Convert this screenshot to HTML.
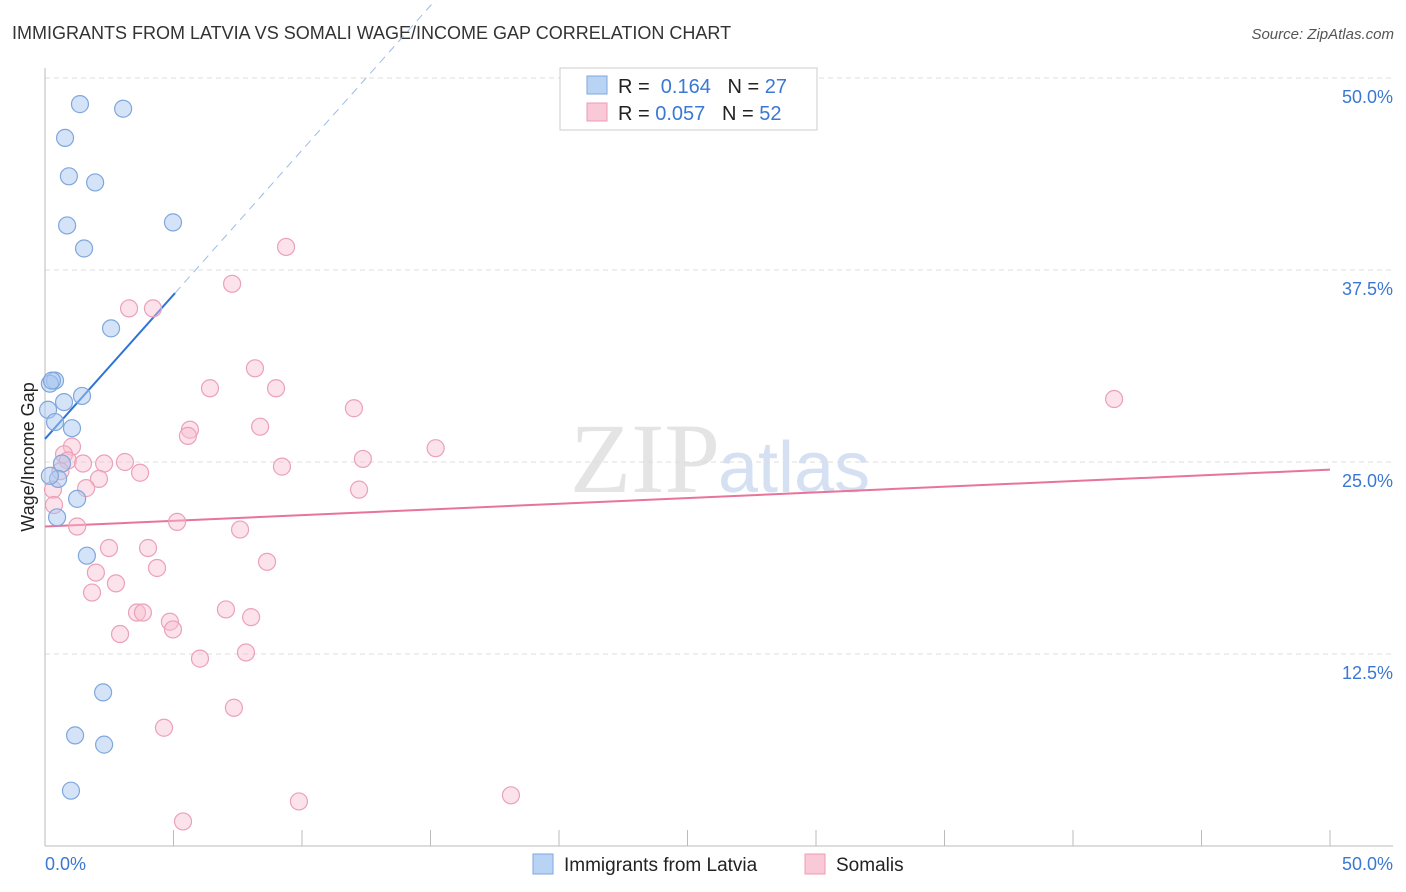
<!DOCTYPE html>
<html><head><meta charset="utf-8"><style>
body{margin:0;background:#fff;font-family:"Liberation Sans",sans-serif}
svg{display:block}
</style></head><body>
<svg id="chart" width="1406" height="892">
<text x="12" y="39" font-size="18" fill="#333">IMMIGRANTS FROM LATVIA VS SOMALI WAGE/INCOME GAP CORRELATION CHART</text>
<text x="1394" y="39" font-size="15" fill="#555" font-style="italic" text-anchor="end">Source: ZipAtlas.com</text>
<text x="720" y="492" font-size="100" fill="#e4e4e4" text-anchor="end" font-family="Liberation Serif">ZIP</text>
<text x="718" y="492" font-size="72" fill="#d5e1f2">atlas</text>
<text transform="translate(34,457) rotate(-90)" font-size="18" fill="#222" text-anchor="middle">Wage/Income Gap</text>
<g id="grid"></g><g id="axes"></g><g id="trend"></g><g id="pts"></g>
<g>
<rect x="560" y="68" width="257" height="62" fill="#fff" stroke="#ccc"/>
<rect x="587" y="76" width="20" height="18" fill="#b9d3f5" stroke="#7fa7dd"/>
<rect x="587" y="103" width="20" height="18" fill="#f9c9d7" stroke="#eb9cb5"/>
<text x="618" y="93" font-size="20" fill="#222">R = <tspan fill="#3a78d4">&#160;0.164</tspan>&#160;&#160;&#160;N = <tspan fill="#3a78d4">27</tspan></text>
<text x="618" y="120" font-size="20" fill="#222">R = <tspan fill="#3a78d4">0.057</tspan>&#160;&#160;&#160;N = <tspan fill="#3a78d4">52</tspan></text>
</g>
<g>
<rect x="533" y="854" width="20" height="20" fill="#b9d3f5" stroke="#7fa7dd"/>
<text x="564" y="871" font-size="19" fill="#222">Immigrants from Latvia</text>
<rect x="805" y="854" width="20" height="20" fill="#f9c9d7" stroke="#eb9cb5"/>
<text x="836" y="871" font-size="19" fill="#222">Somalis</text>
</g>
</svg>
<script>
const blueX=[1.36,3.04,0.78,0.93,1.95,0.86,4.98,1.52,2.57,0.39,0.19,0.74,1.44,0.12,0.39,1.05,0.66,0.51,0.19,1.25,0.47,1.63,2.26,1.17,2.30,1.01,0.27];
const blueY=[48.3,48.0,46.1,43.6,43.2,40.4,40.6,38.9,33.7,30.3,30.1,28.9,29.3,28.4,27.6,27.2,24.9,23.9,24.1,22.6,21.4,18.9,10.0,7.2,6.6,3.6,30.3];
const pinkX=[9.38,7.28,3.27,4.20,8.17,6.42,8.99,12.02,41.6,8.37,5.64,5.56,1.05,15.2,0.74,0.89,1.48,2.30,3.11,12.37,9.22,3.70,2.10,1.60,12.22,0.31,0.35,5.14,1.25,7.59,2.49,4.01,8.64,4.36,1.98,2.76,1.83,3.58,3.81,7.04,8.02,4.86,4.98,2.92,7.82,6.03,7.35,4.63,9.88,18.13,5.37,0.6];
const pinkY=[39.0,36.6,35.0,35.0,31.1,29.8,29.8,28.5,29.1,27.3,27.1,26.7,26.0,25.9,25.5,25.1,24.9,24.9,25.0,25.2,24.7,24.3,23.9,23.3,23.2,23.2,22.2,21.1,20.8,20.6,19.4,19.4,18.5,18.1,17.8,17.1,16.5,15.2,15.2,15.4,14.9,14.6,14.1,13.8,12.6,12.2,9.0,7.7,2.9,3.3,1.6,24.4];
const yTicks=[12.5,25.0,37.5,50.0];
const xTickVals=[0,5,10,15,20,25,30,35,40,45,50];
const blueTrend=[0,26.5,5.06,36.0,24.5,72.6];
const pinkTrend=[0,20.8,50,24.5];
const NS="http://www.w3.org/2000/svg";
const sx=v=>45+v*25.7, sy=v=>846-v*15.36;
function mk(tag,parent,attrs){const e=document.createElementNS(NS,tag);for(const k in attrs)e.setAttribute(k,attrs[k]);document.getElementById(parent).appendChild(e);return e;}
yTicks.forEach(t=>{
 const l=mk('line','grid',{x1:45,x2:1393,y1:sy(t),y2:sy(t),stroke:'#ddd','stroke-dasharray':'5,4'});
 
 
 const tx=mk('text','grid',{x:1393,y:sy(t)+25,'font-size':18,fill:'#3a78d4','text-anchor':'end'});
 tx.textContent=t.toFixed(1)+'%';
 
 
});
mk('line','axes',{x1:45,x2:45,y1:68,y2:846,stroke:'#bbb'});
mk('line','axes',{x1:45,x2:1393,y1:846,y2:846,stroke:'#bbb'});
xTickVals.forEach(t=>{
 const l=mk('line','axes',{x1:sx(t),x2:sx(t),y1:830,y2:846,stroke:'#bbb'});
 
 
});
[[0,'start'],[50,'end']].forEach(([v,a])=>{
 const tx=mk('text','axes',{x:v==0?45:1393,y:870,'font-size':18,fill:'#3a78d4','text-anchor':a});
 tx.textContent=v.toFixed(1)+'%';
 
 
});
let b=mk('line','trend',{x1:sx(blueTrend[0]),y1:sy(blueTrend[1]),x2:sx(blueTrend[2]),y2:sy(blueTrend[3]),stroke:'#2f74d6','stroke-width':2});


b=mk('line','trend',{x1:sx(blueTrend[2]),y1:sy(blueTrend[3]),x2:sx(blueTrend[4]),y2:sy(blueTrend[5]),stroke:'#9bbce8','stroke-width':1,'stroke-dasharray':'8,6'});


b=mk('line','trend',{x1:sx(pinkTrend[0]),y1:sy(pinkTrend[1]),x2:sx(pinkTrend[2]),y2:sy(pinkTrend[3]),stroke:'#e8739b','stroke-width':2});


pinkX.forEach((x,i)=>{
 const c=mk('circle','pts',{cx:sx(x),cy:sy(pinkY[i]),r:8.5,fill:'rgba(248,190,208,0.45)',stroke:'#eba1b9','stroke-width':1.2});
 
 
});
blueX.forEach((x,i)=>{
 const c=mk('circle','pts',{cx:sx(x),cy:sy(blueY[i]),r:8.5,fill:'rgba(170,200,240,0.5)',stroke:'#7fa7dd','stroke-width':1.2});
 
 
});
</script>
</body></html>
